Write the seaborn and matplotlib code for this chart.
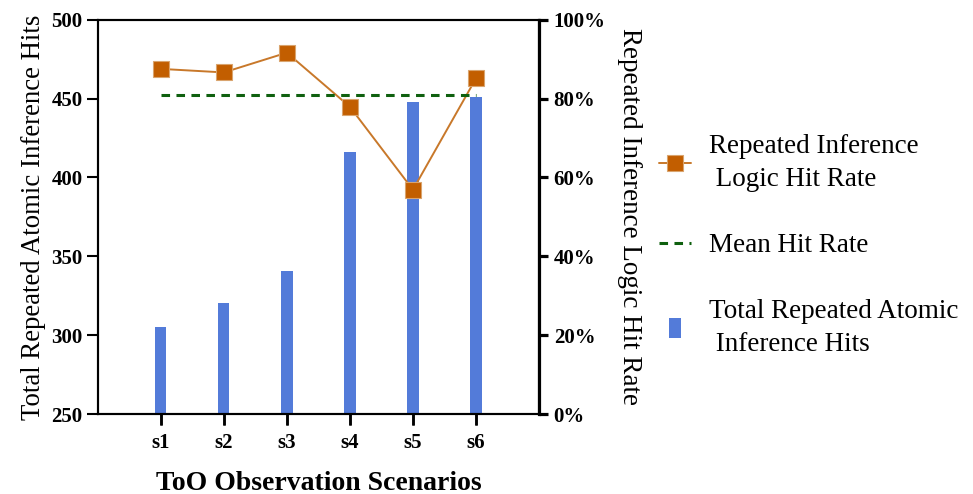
import numpy as np
import pandas as pd
import matplotlib
matplotlib.use("Agg")
import matplotlib.pyplot as plt
import seaborn as sns
from matplotlib.legend_handler import HandlerPatch
from matplotlib.patches import Rectangle
from matplotlib.ticker import FuncFormatter

# ---- data ----
categories = ["s1", "s2", "s3", "s4", "s5", "s6"]
total_hits = [305.6, 320.5, 340.8, 416, 448, 451]
hit_rate = [87.5, 86.6, 91.6, 77.9, 56.9, 85.1]   # percent
mean_rate = float(np.mean(hit_rate))

left_ticks = [250, 300, 350, 400, 450, 500]
right_ticks = [0, 20, 40, 60, 80, 100]

bar_label = "Total Repeated Atomic\n Inference Hits"
line_label = "Repeated Inference\n Logic Hit Rate"
mean_label = "Mean Hit Rate"

df = pd.DataFrame({"scenario": categories, "hits": total_hits, "rate": hit_rate,
                   "mean": [mean_rate] * len(categories)})

sns.set_style("ticks")
plt.rcParams["font.family"] = ["Liberation Serif", "DejaVu Serif"]
plt.rcParams.update({
    "text.color": "black", "axes.labelcolor": "black",
    "xtick.color": "black", "ytick.color": "black",
    "xtick.bottom": True, "ytick.left": True,
    "xtick.direction": "out", "ytick.direction": "out",
    "xtick.major.size": 8, "xtick.major.width": 1.8,
})

fig = plt.figure(figsize=(9.73, 4.94), dpi=100)
ax = fig.add_axes([0.1004, 0.161, 0.4536, 0.7995])

sns.barplot(data=df, x="scenario", y="hits", ax=ax, color="#537BD9", width=0.18,
            saturation=1, edgecolor="none")
ax.set_ylim(250, 500)
ax.set_yticks(left_ticks)
ax.set_xlim(-1, 6)

ax2 = ax.twinx()
sns.pointplot(data=df, x="scenario", y="rate", ax=ax2, color="#C8782A",
              markers="s", linestyles="-", errorbar=None, label=line_label,
              markersize=11, linewidth=1.4, markerfacecolor="#C25E00",
              markeredgecolor="#D9A46E", markeredgewidth=0.8)
sns.pointplot(data=df, x="scenario", y="mean", ax=ax2, color="#0F600F",
              markers="", linestyles=(0, (2.8, 2.1)), errorbar=None, label=mean_label,
              linewidth=2.2)
ax2.set_ylim(0, 100)
ax2.set_yticks(right_ticks)
ax2.yaxis.set_major_formatter(FuncFormatter(lambda v, p: f"{int(v)}%"))
ax.set_xlim(-1, 6)
ax2.set_xlim(-1, 6)

# spines & ticks
for a in (ax, ax2):
    for s in a.spines.values():
        s.set_color("black")
        s.set_linewidth(1.5)
ax2.spines["right"].set_linewidth(2.3)
ax.xaxis.set_ticks_position("bottom")
ax.tick_params(axis="y", which="major", left=True, length=8, width=1.5,
               labelsize=15, pad=3, colors="black")
ax.tick_params(axis="x", which="major", bottom=True, length=8, width=1.8,
               labelsize=15, pad=5, colors="black")
# draw the x tick marks also from the twin axis (labels stay on the primary axis)
ax2.xaxis.set_visible(True)
ax2.tick_params(axis="x", which="major", bottom=True, top=False, length=8, width=1.8,
                labelbottom=False, labeltop=False, colors="black", direction="out")
ax2.tick_params(axis="y", right=True, length=6.5, width=2.3, labelsize=15, pad=4,
                colors="black")
ax2.set_xlabel("")
for lab in ax.get_xticklabels() + ax.get_yticklabels() + ax2.get_yticklabels():
    lab.set_fontweight("bold")

ax.set_xlabel("ToO Observation Scenarios", fontsize=20, fontweight="bold", labelpad=13)
ax.set_ylabel("Total Repeated Atomic Inference Hits", fontsize=19.3, labelpad=4)
ax2.set_ylabel("Repeated Inference Logic Hit Rate", fontsize=19.5, rotation=270,
               labelpad=26)

# legend
h1, l1 = ax2.get_legend_handles_labels()
if ax2.get_legend() is not None:
    ax2.get_legend().remove()
bar_handle = ax.patches[0]
handles = h1 + [bar_handle]
labels = l1 + [bar_label]


def bar_patch(legend, orig_handle, xdescent, ydescent, width, height, fontsize):
    w = 0.65 * height
    h = height * 1.1
    return Rectangle((width / 2 - w / 2 - xdescent, height / 2 - h / 2 - ydescent), w, h)


hm = {Rectangle: HandlerPatch(patch_func=bar_patch)}

leg = fig.legend(handles, labels, loc="center left", bbox_to_anchor=(0.652, 0.503),
                 bbox_transform=fig.transFigure, frameon=False, fontsize=19.5,
                 handlelength=1.2, handletextpad=0.65, labelspacing=1.5, numpoints=1,
                 handler_map=hm)
for t in leg.get_texts():
    t.set_linespacing(1.45)

fig.savefig("out.png", dpi=100)
